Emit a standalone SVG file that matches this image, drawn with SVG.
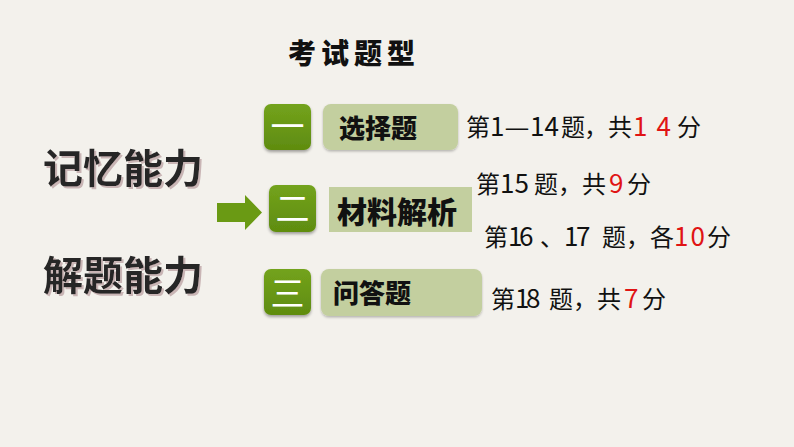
<svg xmlns="http://www.w3.org/2000/svg" width="794" height="447" viewBox="0 0 794 447">
<defs>
<linearGradient id="g" x1="0" y1="0" x2="0" y2="1">
<stop offset="0" stop-color="#73a31c"/>
<stop offset="1" stop-color="#5f8c10"/>
</linearGradient>
<filter id="sh" x="-20%" y="-20%" width="140%" height="150%">
<feDropShadow dx="0" dy="2" stdDeviation="1.5" flood-color="#000" flood-opacity="0.35"/>
</filter>
<filter id="sh2" x="-10%" y="-20%" width="120%" height="150%">
<feDropShadow dx="0" dy="1.5" stdDeviation="1.2" flood-color="#000" flood-opacity="0.25"/>
</filter>
<filter id="tsh" x="-5%" y="-10%" width="115%" height="130%">
<feDropShadow dx="2" dy="2" stdDeviation="0.4" flood-color="#c9b5b5" flood-opacity="1"/>
</filter>
</defs>
<style>
.cjk{font-family:"Noto Sans CJK SC","Noto Sans",sans-serif;}
.num{fill:#e01414;}
.d{font-size:26px;}
.gb{fill:url(#g);filter:url(#sh);}
.lb{fill:#c3cf9f;}
.roman{font-size:34px;fill:#ffffff;font-weight:400;text-anchor:middle;}
.lbl{font-weight:900;fill:#111111;}
.info{font-size:24px;fill:#111111;}
.big{font-size:40px;font-weight:700;fill:#262626;filter:url(#tsh);}
</style>
<rect width="794" height="447" fill="#f3f1ec"/>
<g id="title">
<text class="cjk" x="288 321 354 387" y="64" font-size="28" font-weight="900" fill="#111111">考试题型</text>
</g>
<g id="left-labels">
<text class="cjk big" x="43" y="183">记忆能力</text>
<text class="cjk big" x="43" y="290">解题能力</text>
</g>
<g id="connectors">
<polygon points="217,203 245,203 245,195 262,212.5 245,230 245,222 217,222" fill="#6a9a14"/>
</g>
<g id="node1">
<rect class="gb" x="264" y="104" width="47" height="46" rx="7"/>
<text class="cjk roman" x="287.5" y="139">一</text>
<rect class="lb" x="323" y="104" width="135" height="46" rx="8" filter="url(#sh2)"/>
<text class="cjk lbl" x="339" y="138" font-size="26">选择题</text>
<text class="cjk info" y="136"><tspan x="466">第</tspan><tspan class="d" x="490">1</tspan><tspan class="d" x="530 544.4">14</tspan><tspan x="561">题</tspan><tspan x="584">，</tspan><tspan x="608">共</tspan><tspan class="num d" x="633 656.5">14</tspan><tspan x="677">分</tspan></text>
<text class="cjk info" x="504.5" y="136" textLength="25" lengthAdjust="spacingAndGlyphs">—</text>
</g>
<g id="node2">
<rect class="gb" x="269" y="185" width="47" height="47" rx="7"/>
<text class="cjk roman" x="292.5" y="221">二</text>
<rect class="lb" x="329" y="187" width="143" height="45"/>
<text class="cjk lbl" x="337" y="223" font-size="30">材料解析</text>
<text class="cjk info" y="193"><tspan x="476">第</tspan><tspan class="d" x="500 514.4">15</tspan><tspan x="534">题</tspan><tspan x="558">，</tspan><tspan x="582">共</tspan><tspan class="num d" x="609">9</tspan><tspan x="627">分</tspan></text>
<text class="cjk info" y="246"><tspan x="484">第</tspan><tspan class="d" x="508 519">16</tspan><tspan x="540">、</tspan><tspan class="d" x="564 576">17</tspan><tspan x="602">题</tspan><tspan x="626">，</tspan><tspan x="650">各</tspan><tspan class="num d" x="674 690.5">10</tspan><tspan x="707">分</tspan></text>
</g>
<g id="node3">
<rect class="gb" x="264" y="269" width="47" height="46" rx="7"/>
<text class="cjk roman" x="287.5" y="306">三</text>
<rect class="lb" x="321" y="269" width="161" height="47" rx="8" filter="url(#sh2)"/>
<text class="cjk lbl" x="333" y="303" font-size="26">问答题</text>
<text class="cjk info" y="308"><tspan x="491">第</tspan><tspan class="d" x="515 526">18</tspan><tspan x="549">题</tspan><tspan x="573">，</tspan><tspan x="597">共</tspan><tspan class="num d" x="624">7</tspan><tspan x="642">分</tspan></text>
</g>
</svg>
